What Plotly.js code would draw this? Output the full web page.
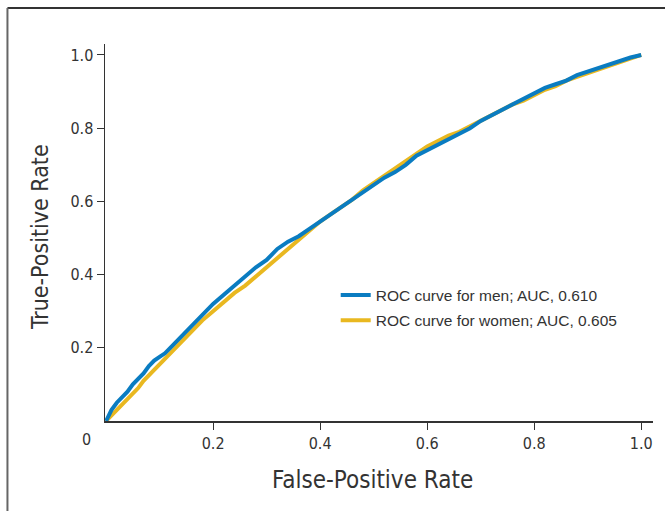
<!DOCTYPE html>
<html>
<head>
<meta charset="utf-8">
<script src="https://cdn.plot.ly/plotly-3.0.1.min.js"></script>
<style>html,body{margin:0;padding:0;background:#fff;}#chart{width:665px;height:511px;}</style>
</head>
<body>
<div id="chart"></div>
<script>
const menFPR = [0,0.005,0.01,0.02,0.03,0.04,0.05,0.06,0.07,0.08,0.09,0.10,0.11,0.12,0.13,0.14,0.15,0.16,0.17,0.18,0.19,0.20,0.22,0.24,0.26,0.28,0.30,0.32,0.34,0.36,0.38,0.40,0.42,0.44,0.46,0.48,0.50,0.52,0.54,0.56,0.58,0.60,0.62,0.64,0.66,0.68,0.70,0.72,0.74,0.76,0.78,0.80,0.82,0.84,0.86,0.88,0.90,0.92,0.94,0.96,0.98,1.00];
const menTPR = [0,0.015,0.03,0.05,0.065,0.08,0.10,0.115,0.13,0.15,0.165,0.175,0.185,0.20,0.215,0.23,0.245,0.26,0.275,0.29,0.305,0.32,0.345,0.37,0.395,0.42,0.44,0.47,0.49,0.505,0.525,0.545,0.565,0.585,0.605,0.625,0.645,0.665,0.68,0.70,0.725,0.74,0.755,0.77,0.785,0.80,0.82,0.835,0.85,0.865,0.88,0.895,0.91,0.92,0.93,0.945,0.955,0.965,0.975,0.985,0.993,1.00];
const womenFPR = [0,0.01,0.02,0.03,0.04,0.05,0.06,0.07,0.08,0.09,0.10,0.12,0.14,0.16,0.18,0.20,0.22,0.24,0.26,0.28,0.30,0.32,0.34,0.36,0.38,0.40,0.42,0.44,0.46,0.48,0.50,0.52,0.54,0.56,0.58,0.60,0.62,0.64,0.66,0.68,0.70,0.72,0.74,0.76,0.78,0.80,0.82,0.84,0.86,0.88,0.90,0.92,0.94,0.96,0.98,1.00];
const womenTPR = [0,0.015,0.03,0.045,0.06,0.075,0.09,0.11,0.125,0.14,0.155,0.185,0.215,0.245,0.275,0.30,0.325,0.35,0.37,0.395,0.42,0.445,0.47,0.495,0.52,0.545,0.565,0.585,0.605,0.63,0.65,0.67,0.69,0.71,0.73,0.75,0.765,0.78,0.79,0.805,0.82,0.835,0.85,0.865,0.875,0.89,0.905,0.915,0.93,0.94,0.95,0.96,0.972,0.982,0.992,1.00];
const seriesNames = ['ROC curve for men; AUC, 0.610','ROC curve for women; AUC, 0.605'];
const tickVals = [0.2,0.4,0.6,0.8,1.0];
const tickText = ['0.2','0.4','0.6','0.8','1.0'];
const originLabel = '0';
const xTitle = 'False-Positive Rate';
const yTitle = 'True-Positive Rate';

const narrow = '"DejaVu Sans Condensed", "Liberation Sans Narrow", "Arial Narrow", sans-serif';
const traces = [
  {x: womenFPR, y: womenTPR, name: seriesNames[1], mode:'lines', line:{color:'#E9B820', width:4}, legendrank:2, legendgroup:'w'},
  {x: menFPR, y: menTPR, name: seriesNames[0], mode:'lines', line:{color:'#0A7CC1', width:4}, legendrank:1, legendgroup:'m'}
];
const layout = {
  width:665, height:511,
  margin:{l:105, r:12, t:44, b:90},
  paper_bgcolor:'#fff', plot_bgcolor:'#fff',
  showlegend:true,
  legend:{x:0.421, y:0.378, xanchor:'left', yanchor:'top', bgcolor:'rgba(0,0,0,0)',
    font:{family:'"Liberation Sans", Arial, sans-serif', size:15.5, color:'#333'}, traceorder:'grouped', tracegroupgap:2},
  xaxis:{range:[-0.002,1.022], tickvals:tickVals, ticktext:tickText, ticks:'outside', ticklen:7, tickwidth:1, tickcolor:'#333',
    showline:true, linecolor:'#333', linewidth:1.5, showgrid:false, zeroline:false,
    tickfont:{family:narrow, size:16, color:'#333'}},
  yaxis:{range:[0,1.03], tickvals:tickVals, ticktext:tickText, ticks:'outside', ticklen:7, tickwidth:1, tickcolor:'#333',
    showline:true, linecolor:'#333', linewidth:1.5, showgrid:false, zeroline:false,
    tickfont:{family:narrow, size:16, color:'#333'}},
  annotations:[
    {text:originLabel, xref:'paper', yref:'paper', x:-0.033, y:-0.05, showarrow:false, xanchor:'center', yanchor:'middle',
      font:{family:narrow, size:16, color:'#333'}},
    {text:xTitle, xref:'paper', yref:'paper', x:(372-105)/548, y:(421-480)/377, showarrow:false, xanchor:'center', yanchor:'middle',
      font:{family:narrow, size:24, color:'#333'}},
    {text:yTitle, xref:'paper', yref:'paper', x:(40-105)/548, y:(421-237)/377, showarrow:false, xanchor:'center', yanchor:'middle', textangle:-90,
      font:{family:narrow, size:23, color:'#333'}}
  ],
  shapes:[
    {type:'line', xref:'paper', yref:'paper', x0:-0.178, x1:1.2, y0:1.0955, y1:1.0955, line:{color:'#333', width:2}},
    {type:'line', xref:'paper', yref:'paper', x0:-0.178, x1:-0.178, y0:1.0955, y1:-0.3, line:{color:'#666', width:2}}
  ]
};
Plotly.newPlot('chart', traces, layout, {displayModeBar:false, staticPlot:true});
</script>
</body>
</html>
